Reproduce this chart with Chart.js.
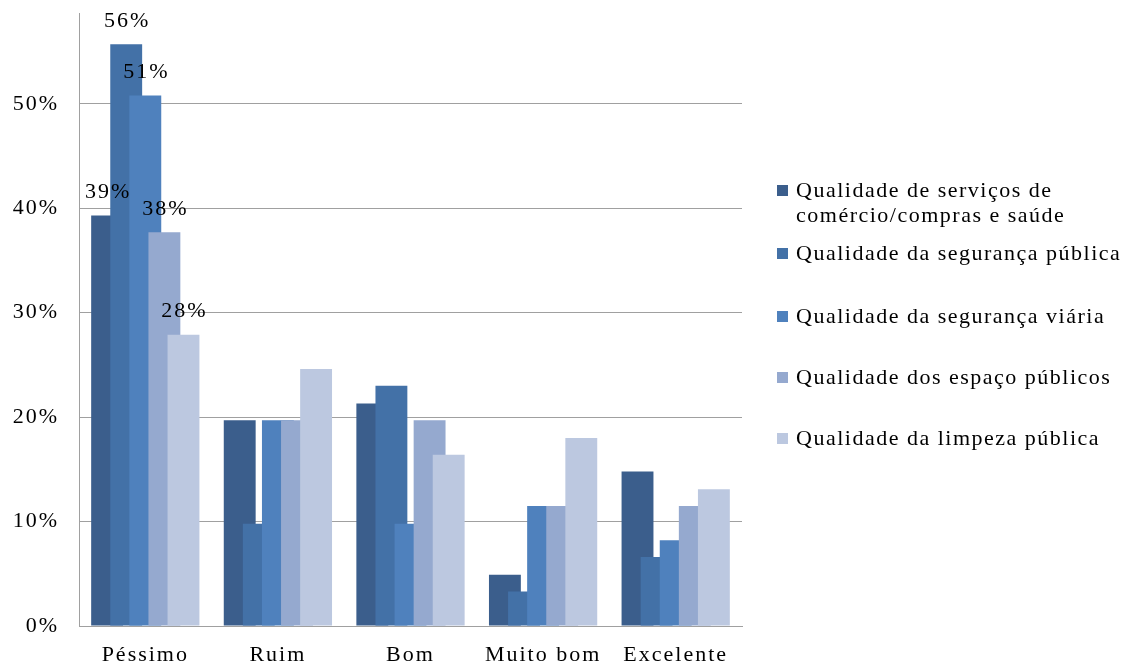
<!DOCTYPE html>
<html>
<head>
<meta charset="utf-8">
<script src="https://cdn.jsdelivr.net/npm/chart.js@4.4.1/dist/chart.umd.min.js"></script>
<style>
  html, body { margin: 0; padding: 0; background: #fff; }
  #wrap { position: relative; width: 1131px; height: 663px; }
  #legend { position: absolute; left: 777px; top: 0; font-family: "Liberation Serif", "Times New Roman", serif; font-size: 22px; letter-spacing: 1.5px; color: #000; }
  .item { position: absolute; left: 0; display: flex; align-items: flex-start; width: 354px; }
  .box { width: 11px; height: 11px; margin-top: 8px; margin-right: 8px; flex: none; }
  .txt { line-height: 25px; width: 335px; }
</style>
</head>
<body>
<div id="wrap">
  <canvas id="chart" width="1131" height="663"></canvas>
  <div id="legend"></div>
</div>
<script>
const categories = ['Péssimo', 'Ruim', 'Bom', 'Muito bom', 'Excelente'];
const seriesNames = [
  'Qualidade de serviços de comércio/compras e saúde',
  'Qualidade da segurança pública',
  'Qualidade da segurança viária',
  'Qualidade dos espaço públicos',
  'Qualidade da limpeza pública'
];
const comercio = [39.3, 19.7, 21.3, 4.9, 14.8];
const seguranca = [55.7, 9.8, 23.0, 3.3, 6.6];
const viaria = [50.8, 19.7, 9.8, 11.5, 8.2];
const espacos = [37.7, 19.7, 19.7, 11.5, 11.5];
const limpeza = [27.9, 24.6, 16.4, 18.0, 13.1];
const yTicks = [0, 10, 20, 30, 40, 50];

const colors = ['#3B5E8C', '#4371A7', '#4F81BD', '#95A9CF', '#BCC8E0'];
const seriesValues = [comercio, seguranca, viaria, espacos, limpeza];
const font = '"Liberation Serif", "Times New Roman", serif';

// later series are painted over earlier ones, like the original
const paintInOrder = {
  id: 'paintInOrder',
  beforeDraw(chart) { chart.ctx.letterSpacing = '2px'; },
  beforeDatasetsDraw(chart) {
    chart.getSortedVisibleDatasetMetas()
      .sort((a, b) => a.index - b.index)
      .forEach(m => m.controller.draw());
    return false;
  },
  afterDraw(chart) {
    const ctx = chart.ctx;
    ctx.save();
    ctx.font = '22px ' + font;
    ctx.fillStyle = '#000';
    ctx.textAlign = 'center';
    ctx.textBaseline = 'middle';
    chart.data.datasets.forEach((ds, i) => {
      const bar = chart.getDatasetMeta(i).data[0];
      ctx.fillText(Math.round(ds.data[0]) + '%', bar.x + 1, bar.y - 23);
    });
    ctx.restore();
  }
};

new Chart(document.getElementById('chart'), {
  type: 'bar',
  data: {
    labels: categories,
    datasets: seriesNames.map((name, i) => ({
      label: name,
      data: seriesValues[i],
      backgroundColor: colors[i],
      borderWidth: 0,
      categoryPercentage: 0.72,
      barPercentage: 1.67
    }))
  },
  options: {
    responsive: false,
    animation: false,
    layout: { padding: { top: 13, right: 389, bottom: 0, left: 0 } },
    plugins: { legend: { display: false }, tooltip: { enabled: false } },
    scales: {
      x: {
        grid: { display: false },
        border: { color: '#A0A0A0', width: 1 },
        ticks: { color: '#000', font: { family: font, size: 22 }, padding: 8, maxRotation: 0 },
        afterFit: s => { s.height = 37; s.paddingLeft = 0; s.paddingRight = 0; }
      },
      y: {
        min: 0,
        max: 58.7,
        afterBuildTicks: s => { s.ticks = yTicks.map(v => ({ value: v })); },
        grid: { color: '#A0A0A0', drawTicks: false },
        border: { color: '#A0A0A0', width: 1 },
        ticks: { color: '#000', font: { family: font, size: 22 }, padding: 20, callback: v => v + '%' },
        afterFit: s => { s.width = 79; s.paddingTop = 0; s.paddingBottom = 0; }
      }
    }
  },
  plugins: [paintInOrder]
});

const legend = document.getElementById('legend');
const legendTops = [177, 240, 303, 364, 425];
seriesNames.forEach((name, i) => {
  const item = document.createElement('div');
  item.className = 'item';
  item.style.top = legendTops[i] + 'px';
  item.innerHTML = '<div class="box" style="background:' + colors[i] + '"></div><div class="txt">' + name + '</div>';
  legend.appendChild(item);
});
</script>
</body>
</html>
